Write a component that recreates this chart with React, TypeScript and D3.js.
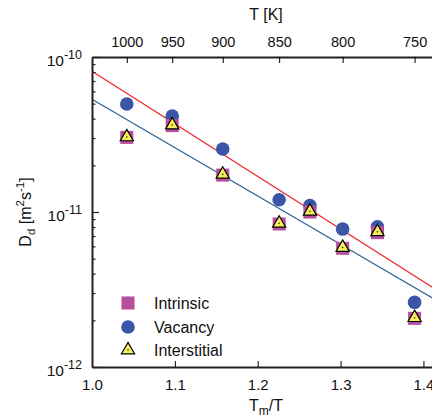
import React, { useEffect, useRef } from 'react';
import * as d3 from 'd3';

// melting temperature used for the Tm/T axis
const Tm = 1042;
const temps = [1000, 950, 900, 850, 825, 800, 775, 750];
const vacancy = [4.97e-11, 4.16e-11, 2.55e-11, 1.2e-11, 1.1e-11, 7.76e-12, 8.03e-12, 2.61e-12];
const intrinsic = [3.03e-11, 3.61e-11, 1.73e-11, 8.37e-12, 1.0e-11, 5.83e-12, 7.36e-12, 2.06e-12];
const interstitial = [3.05e-11, 3.64e-11, 1.75e-11, 8.45e-12, 1.01e-11, 5.9e-12, 7.45e-12, 2.08e-12];
// Arrhenius fits, two points each [Tm/T, D]
const redFit: [number, number][] = [[1.0, 8.09e-11], [1.45, 2.41e-12]];
const blueFit: [number, number][] = [[1.0, 5.34e-11], [1.45, 2.1e-12]];
const bottomTicks = [1.0, 1.1, 1.2, 1.3, 1.4];
const topTemps = [1000, 950, 900, 850, 800, 750];
const decades = [-12, -11, -10];
const legendItems = ['Intrinsic', 'Vacancy', 'Interstitial'];

const C_SQUARE = '#b84e9f';
const C_CIRCLE = '#3b56a6';
const C_TRI = '#f4ee5a';
const C_RED = '#ee2a2f';
const C_BLUE = '#386a96';
const FONT = "'Liberation Sans', Arial, sans-serif";

const App = () => {
  const ref = useRef<SVGSVGElement>(null);

  useEffect(() => {
    const width = 432;
    const height = 418;
    const m = { left: 92, top: 57, right: 440, bottom: 367 };

    const x = d3.scaleLinear().domain([1.0, 1.42]).range([m.left, m.right]);
    const y = d3.scaleLog().domain([1e-12, 1e-10]).range([m.bottom, m.top]);

    const svg = d3.select(ref.current);
    svg.selectAll('*').remove();
    svg.attr('width', width).attr('height', height).style('font-family', FONT);

    svg.append('defs').append('clipPath').attr('id', 'plot')
      .append('rect')
      .attr('x', m.left).attr('y', m.top)
      .attr('width', m.right - m.left).attr('height', m.bottom - m.top);

    // fit lines
    const line = d3.line<[number, number]>().x((d) => x(d[0])).y((d) => y(d[1]));
    const lines = svg.append('g').attr('clip-path', 'url(#plot)');
    lines.append('path').attr('d', line(redFit)).attr('fill', 'none')
      .attr('stroke', C_RED).attr('stroke-width', 1.3);
    lines.append('path').attr('d', line(blueFit)).attr('fill', 'none')
      .attr('stroke', C_BLUE).attr('stroke-width', 1.3);

    const pts = temps.map((t, i) => ({
      x: Tm / t,
      vac: vacancy[i],
      intr: intrinsic[i],
      inter: interstitial[i],
    }));

    const sq = d3.symbol().type(d3.symbolSquare).size(170);
    const tri = d3.symbol().type(d3.symbolTriangle).size(75);

    const marks = svg.append('g');
    marks.selectAll('circle.vac').data(pts).join('circle')
      .attr('cx', (d) => x(d.x)).attr('cy', (d) => y(d.vac))
      .attr('r', 6.8).attr('fill', C_CIRCLE);
    marks.selectAll('path.sq').data(pts).join('path')
      .attr('d', sq()!)
      .attr('transform', (d) => `translate(${x(d.x)},${y(d.intr)})`)
      .attr('fill', C_SQUARE);
    const triG = marks.selectAll('g.tri').data(pts).join('g')
      .attr('transform', (d) => `translate(${x(d.x)},${y(d.inter)})`);
    triG.append('path').attr('d', tri()!).attr('fill', C_TRI)
      .attr('stroke', '#000').attr('stroke-width', 1.2);
    triG.append('circle').attr('r', 0.8).attr('fill', '#222');

    // bottom axis
    const bottom = svg.append('g').attr('transform', `translate(0,${m.bottom})`)
      .call(
        d3.axisBottom(x).tickValues(bottomTicks).tickFormat(d3.format('.1f'))
          .tickSizeInner(-6).tickSizeOuter(0).tickPadding(12)
      );
    bottom.select('.domain').attr('stroke', '#222').attr('stroke-width', 2);
    bottom.selectAll('text').attr('font-size', 15).attr('font-family', FONT).attr('fill', '#111');

    // top axis (temperature)
    const top = svg.append('g').attr('transform', `translate(0,${m.top})`)
      .call(
        d3.axisTop(x).tickValues(topTemps.map((t) => Tm / t))
          .tickFormat((_, i) => String(topTemps[i]))
          .tickSizeInner(-6).tickSizeOuter(0).tickPadding(10)
      );
    top.select('.domain').attr('stroke', '#222').attr('stroke-width', 2);
    top.selectAll('text').attr('font-size', 14.5).attr('font-family', FONT).attr('fill', '#111');

    // left axis (log)
    const minor: number[] = [];
    decades.slice(0, -1).forEach((e) => {
      for (let k = 2; k <= 9; k++) minor.push(k * Math.pow(10, e));
    });
    const left = svg.append('g').attr('transform', `translate(${m.left},0)`);
    left.call(
      d3.axisLeft(y).tickValues(decades.map((e) => Math.pow(10, e)))
        .tickFormat(() => '').tickSizeInner(-7).tickSizeOuter(0)
    );
    left.select('.domain').attr('stroke', '#222').attr('stroke-width', 2);
    left.append('g').call(
      d3.axisLeft(y).tickValues(minor).tickFormat(() => '').tickSizeInner(-3.5).tickSizeOuter(0)
    ).select('.domain').remove();
    left.selectAll('line').attr('stroke', '#222').attr('stroke-width', 1.2);

    decades.forEach((e) => {
      const t = svg.append('text')
        .attr('x', 82).attr('y', y(Math.pow(10, e)) + 9)
        .attr('text-anchor', 'end').attr('font-size', 15.5).attr('fill', '#111');
      t.append('tspan').text('10');
      t.append('tspan').attr('dy', -7).attr('font-size', 12.5).text(String(e));
    });

    // axis titles
    svg.append('text').attr('x', 266).attr('y', 20).attr('text-anchor', 'middle')
      .attr('font-size', 16).attr('fill', '#111').text('T [K]');

    const xt = svg.append('text').attr('x', 266).attr('y', 411).attr('text-anchor', 'middle')
      .attr('font-size', 16).attr('fill', '#111');
    xt.append('tspan').text('T');
    xt.append('tspan').attr('dy', 4).attr('font-size', 12).text('m');
    xt.append('tspan').attr('dy', -4).text('/T');

    const yt = svg.append('text')
      .attr('transform', `translate(31,${212}) rotate(-90)`)
      .attr('text-anchor', 'middle').attr('font-size', 16).attr('fill', '#111');
    yt.append('tspan').text('D');
    yt.append('tspan').attr('dy', 4).attr('font-size', 11.5).text('d');
    yt.append('tspan').attr('dy', -4).text(' [m');
    yt.append('tspan').attr('dy', -7).attr('font-size', 11.5).text('2');
    yt.append('tspan').attr('dy', 7).text('s');
    yt.append('tspan').attr('dy', -7).attr('font-size', 11.5).text('-1');
    yt.append('tspan').attr('dy', 7).text(']');

    // legend
    const lg = svg.append('g');
    const ly = [303, 327, 350];
    legendItems.forEach((name, i) => {
      const g = lg.append('g').attr('transform', `translate(128,${ly[i]})`);
      if (i === 0) g.append('path').attr('d', sq()!).attr('fill', C_SQUARE);
      if (i === 1) g.append('circle').attr('r', 6.8).attr('fill', C_CIRCLE);
      if (i === 2) {
        g.append('path').attr('d', tri()!).attr('fill', C_TRI)
          .attr('stroke', '#000').attr('stroke-width', 1.2);
        g.append('circle').attr('r', 0.8).attr('fill', '#222');
      }
      g.append('text').attr('x', 26).attr('y', 5.5).attr('font-size', 16)
        .attr('fill', '#111').text(name);
    });
  }, []);

  return (
    <div>
      <svg ref={ref} style={{ position: 'absolute', left: 0, top: 0 }}></svg>
    </div>
  );
};

export default App;
